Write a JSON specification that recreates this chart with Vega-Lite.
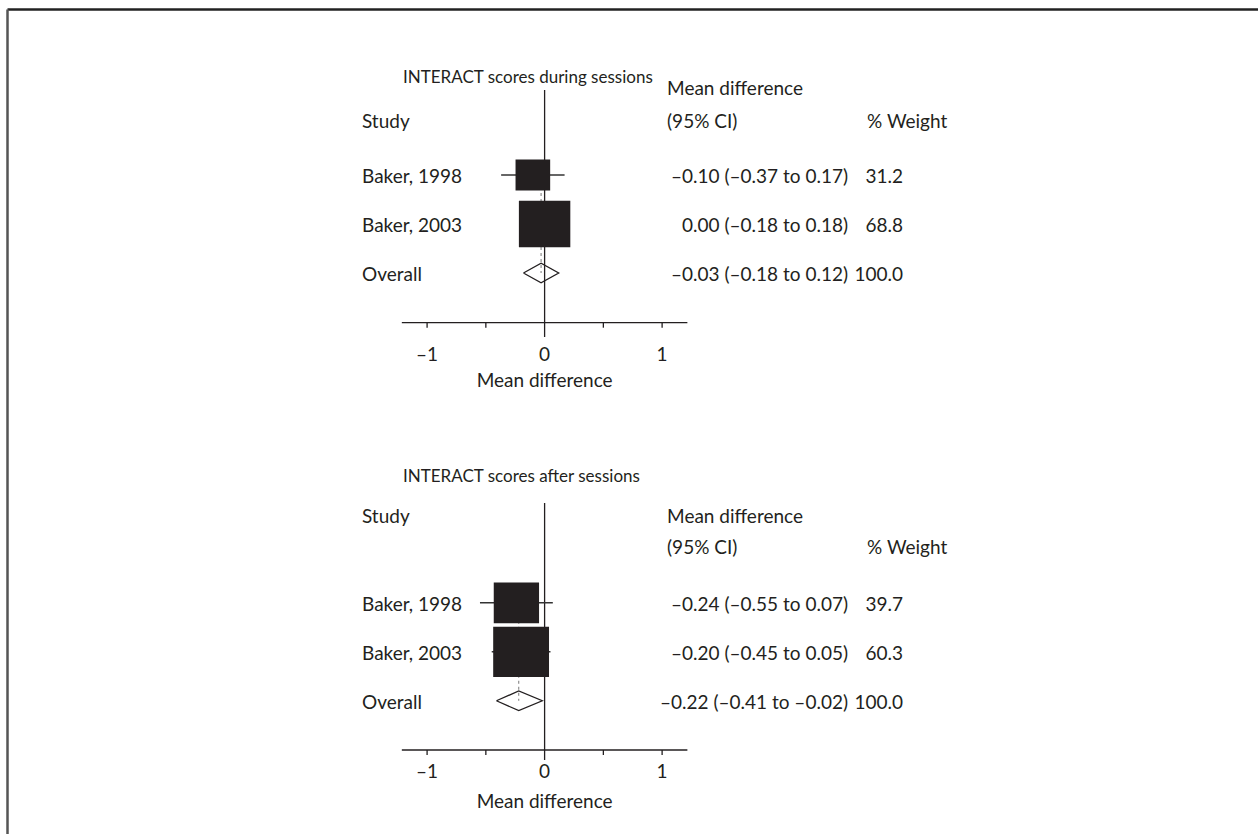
{
  "$schema": "https://vega.github.io/schema/vega-lite/v6.json",
  "width": 1251,
  "height": 825,
  "autosize": {"type": "none"},
  "padding": {"left": 7, "top": 9, "right": 0, "bottom": 0},
  "background": "white",
  "config": {
    "view": {"stroke": null},
    "font": "Lato",
    "text": {"font": "Lato", "fontSize": 19, "color": "#231f20", "baseline": "middle"},
    "axis": {"domain": true, "ticks": false, "labels": false, "grid": false, "title": null},
    "axisX": {"domainColor": "#222222", "domainWidth": 2.5},
    "axisY": {"domainColor": "#555555", "domainWidth": 2.5}
  },
  "datasets": {
    "rows": [
      {"panel": "during", "kind": "study", "label": "Baker, 1998", "row": 1, "md": -0.10, "lo": -0.37, "hi": 0.17, "weight": 31.2, "ci": "–0.10 (–0.37 to 0.17)", "wt": "31.2"},
      {"panel": "during", "kind": "study", "label": "Baker, 2003", "row": 2, "md": 0.00, "lo": -0.18, "hi": 0.18, "weight": 68.8, "ci": "0.00 (–0.18 to 0.18)", "wt": "68.8"},
      {"panel": "during", "kind": "overall", "label": "Overall", "row": 3, "first": 1, "md": -0.03, "lo": -0.18, "hi": 0.12, "weight": 100.0, "ci": "–0.03 (–0.18 to 0.12)", "wt": "100.0"},
      {"panel": "after", "kind": "study", "label": "Baker, 1998", "row": 9.73, "md": -0.24, "lo": -0.55, "hi": 0.07, "weight": 39.7, "ci": "–0.24 (–0.55 to 0.07)", "wt": "39.7"},
      {"panel": "after", "kind": "study", "label": "Baker, 2003", "row": 10.73, "md": -0.20, "lo": -0.45, "hi": 0.05, "weight": 60.3, "ci": "–0.20 (–0.45 to 0.05)", "wt": "60.3"},
      {"panel": "after", "kind": "overall", "label": "Overall", "row": 11.73, "first": 9.73, "md": -0.22, "lo": -0.41, "hi": -0.02, "weight": 100.0, "ci": "–0.22 (–0.41 to –0.02)", "wt": "100.0"}
    ],
    "diamond": [
      {"panel": "during", "k": 1, "md": -0.18, "row": 3},
      {"panel": "during", "k": 2, "md": -0.03, "row": 2.8},
      {"panel": "during", "k": 3, "md": 0.12, "row": 3},
      {"panel": "during", "k": 4, "md": -0.03, "row": 3.2},
      {"panel": "during", "k": 5, "md": -0.18, "row": 3},
      {"panel": "after", "k": 1, "md": -0.41, "row": 11.73},
      {"panel": "after", "k": 2, "md": -0.22, "row": 11.53},
      {"panel": "after", "k": 3, "md": -0.02, "row": 11.73},
      {"panel": "after", "k": 4, "md": -0.22, "row": 11.93},
      {"panel": "after", "k": 5, "md": -0.41, "row": 11.73}
    ],
    "titles": [
      {"text": "INTERACT scores during sessions", "row": -0.98},
      {"text": "INTERACT scores after sessions", "row": 7.163}
    ],
    "studyhead": [
      {"text": "Study", "row": -0.082},
      {"text": "Study", "row": 7.973}
    ],
    "cihead": [
      {"text": "Mean difference", "row": -0.755},
      {"text": "(95% CI)", "row": -0.082},
      {"text": "Mean difference", "row": 7.973},
      {"text": "(95% CI)", "row": 8.618}
    ],
    "wthead": [
      {"text": "% Weight", "row": -0.082},
      {"text": "% Weight", "row": 8.618}
    ],
    "axes": [
      {"panel": "during", "top": -0.735, "axis": 4.014, "zeroend": 4.306, "tickend": 4.116, "labrow": 4.673, "titlerow": 5.204},
      {"panel": "after", "top": 7.694, "axis": 12.735, "zeroend": 12.939, "tickend": 12.837, "labrow": 13.178, "titlerow": 13.79}
    ],
    "ticks": [
      {"v": -1, "axis": 4.014, "tickend": 4.116},
      {"v": -0.5, "axis": 4.014, "tickend": 4.116},
      {"v": 0.5, "axis": 4.014, "tickend": 4.116},
      {"v": 1, "axis": 4.014, "tickend": 4.116},
      {"v": -1, "axis": 12.735, "tickend": 12.837},
      {"v": -0.5, "axis": 12.735, "tickend": 12.837},
      {"v": 0.5, "axis": 12.735, "tickend": 12.837},
      {"v": 1, "axis": 12.735, "tickend": 12.837}
    ],
    "ticklabels": [
      {"v": -1, "lab": "–1", "row": 4.673},
      {"v": 0, "lab": "0", "row": 4.673},
      {"v": 1, "lab": "1", "row": 4.673},
      {"v": -1, "lab": "–1", "row": 13.178},
      {"v": 0, "lab": "0", "row": 13.178},
      {"v": 1, "lab": "1", "row": 13.178}
    ]
  },
  "resolve": {"scale": {"size": "independent"}},
  "layer": [
    {
      "data": {"name": "axes"},
      "mark": {"type": "rule", "color": "#231f20", "strokeWidth": 1.3},
      "encoding": {
        "x": {"datum": 0, "type": "quantitative", "scale": {"domain": [-4.575, 6.071], "nice": false, "zero": false}, "axis": {"orient": "top"}},
        "y": {"field": "top", "type": "quantitative", "scale": {"domain": [-2.388, 14.449], "nice": false, "zero": false, "reverse": true}, "axis": {"orient": "left"}},
        "y2": {"field": "zeroend"}
      }
    },
    {
      "data": {"name": "axes"},
      "mark": {"type": "rule", "color": "#231f20", "strokeWidth": 1.3},
      "encoding": {
        "x": {"datum": -1.215, "type": "quantitative"},
        "x2": {"datum": 1.215},
        "y": {"field": "axis", "type": "quantitative"}
      }
    },
    {
      "data": {"name": "ticks"},
      "mark": {"type": "rule", "color": "#231f20", "strokeWidth": 1.3},
      "encoding": {
        "x": {"field": "v", "type": "quantitative"},
        "y": {"field": "axis", "type": "quantitative"},
        "y2": {"field": "tickend"}
      }
    },
    {
      "data": {"name": "ticklabels"},
      "mark": {"type": "text", "align": "center"},
      "encoding": {
        "x": {"field": "v", "type": "quantitative"},
        "y": {"field": "row", "type": "quantitative"},
        "text": {"field": "lab"}
      }
    },
    {
      "data": {"name": "axes"},
      "mark": {"type": "text", "align": "center"},
      "encoding": {
        "x": {"datum": 0, "type": "quantitative"},
        "y": {"field": "titlerow", "type": "quantitative"},
        "text": {"value": "Mean difference"}
      }
    },
    {
      "data": {"name": "titles"},
      "mark": {"type": "text", "align": "left", "fontSize": 17},
      "encoding": {
        "x": {"datum": -1.205, "type": "quantitative"},
        "y": {"field": "row", "type": "quantitative"},
        "text": {"field": "text"}
      }
    },
    {
      "data": {"name": "studyhead"},
      "mark": {"type": "text", "align": "left"},
      "encoding": {
        "x": {"datum": -1.554, "type": "quantitative"},
        "y": {"field": "row", "type": "quantitative"},
        "text": {"field": "text"}
      }
    },
    {
      "data": {"name": "cihead"},
      "mark": {"type": "text", "align": "left"},
      "encoding": {
        "x": {"datum": 1.042, "type": "quantitative"},
        "y": {"field": "row", "type": "quantitative"},
        "text": {"field": "text"}
      }
    },
    {
      "data": {"name": "wthead"},
      "mark": {"type": "text", "align": "left"},
      "encoding": {
        "x": {"datum": 2.744, "type": "quantitative"},
        "y": {"field": "row", "type": "quantitative"},
        "text": {"field": "text"}
      }
    },
    {
      "data": {"name": "rows"},
      "mark": {"type": "text", "align": "left", "dy": 2},
      "encoding": {
        "x": {"datum": -1.554, "type": "quantitative"},
        "y": {"field": "row", "type": "quantitative"},
        "text": {"field": "label"}
      }
    },
    {
      "data": {"name": "rows"},
      "mark": {"type": "text", "align": "right", "dy": 2},
      "encoding": {
        "x": {"datum": 2.582, "type": "quantitative"},
        "y": {"field": "row", "type": "quantitative"},
        "text": {"field": "ci"}
      }
    },
    {
      "data": {"name": "rows"},
      "mark": {"type": "text", "align": "right", "dy": 2},
      "encoding": {
        "x": {"datum": 3.05, "type": "quantitative"},
        "y": {"field": "row", "type": "quantitative"},
        "text": {"field": "wt"}
      }
    },
    {
      "data": {"name": "rows"},
      "transform": [{"filter": "datum.kind == 'overall'"}],
      "mark": {"type": "rule", "color": "#777777", "strokeWidth": 1, "strokeDash": [3, 3]},
      "encoding": {
        "x": {"field": "md", "type": "quantitative"},
        "y": {"field": "first", "type": "quantitative"},
        "y2": {"field": "row"}
      }
    },
    {
      "data": {"name": "rows"},
      "transform": [{"filter": "datum.kind == 'study'"}],
      "mark": {"type": "rule", "color": "#333333", "strokeWidth": 1.3},
      "encoding": {
        "x": {"field": "lo", "type": "quantitative"},
        "x2": {"field": "hi"},
        "y": {"field": "row", "type": "quantitative"}
      }
    },
    {
      "data": {"name": "rows"},
      "transform": [{"filter": "datum.kind == 'study' && datum.panel == 'during'"}],
      "mark": {"type": "point", "shape": "M-1,-0.9H1V0.9H-1Z", "filled": true, "opacity": 1, "color": "#231f20", "strokeWidth": 0},
      "encoding": {
        "x": {"field": "md", "type": "quantitative"},
        "y": {"field": "row", "type": "quantitative"},
        "size": {"field": "weight", "type": "quantitative", "scale": {"type": "linear", "domain": [0, 100], "range": [0, 3844], "zero": true}, "legend": null}
      }
    },
    {
      "data": {"name": "rows"},
      "transform": [{"filter": "datum.kind == 'study' && datum.panel == 'after'"}],
      "mark": {"type": "point", "shape": "M-1,-0.9H1V0.9H-1Z", "filled": true, "opacity": 1, "color": "#231f20", "strokeWidth": 0},
      "encoding": {
        "x": {"field": "md", "type": "quantitative"},
        "y": {"field": "row", "type": "quantitative"},
        "size": {"field": "weight", "type": "quantitative", "scale": {"type": "linear", "domain": [0, 100], "range": [0, 5170], "zero": true}, "legend": null}
      }
    },
    {
      "data": {"name": "diamond"},
      "mark": {"type": "line", "color": "#231f20", "strokeWidth": 1.3, "strokeJoin": "miter"},
      "encoding": {
        "x": {"field": "md", "type": "quantitative"},
        "y": {"field": "row", "type": "quantitative"},
        "detail": {"field": "panel"},
        "order": {"field": "k"}
      }
    }
  ]
}
